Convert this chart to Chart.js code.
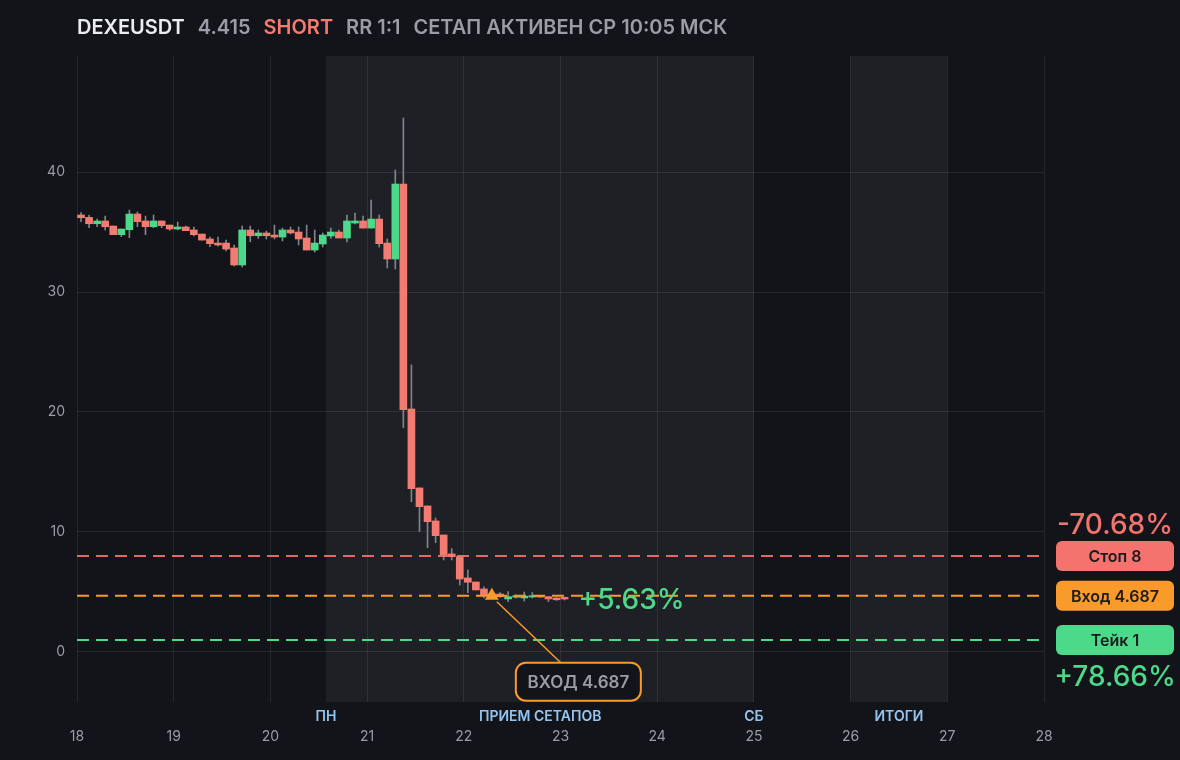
<!DOCTYPE html>
<html>
<head>
<meta charset="utf-8">
<script src="https://cdn.jsdelivr.net/npm/chart.js@4.4.1/dist/chart.umd.min.js"></script>
<style>
  html, body { margin: 0; padding: 0; background: #131419; }
  canvas { display: block; }
</style>
</head>
<body>
<canvas id="chart" width="1180" height="760"></canvas>
<script>
// Header
var symbol = 'DEXEUSDT';
var lastPrice = '4.415';
var side = 'SHORT';
var riskReward = 'RR 1:1';
var setupStatus = 'СЕТАП АКТИВЕН СР 10:05 МСК';

// 2h candles, hours counted from the 18th 00:00
var candleHours = [0, 2, 4, 6, 8, 10, 12, 14, 16, 18, 20, 22, 24, 26, 28, 30, 32, 34, 36, 38,
    40, 42, 44, 46, 48, 50, 52, 54, 56, 58, 60, 62, 64, 66, 68, 70, 72, 74, 76, 78,
    80, 82, 84, 86, 88, 90, 92, 94, 96, 98, 100, 102, 104, 106, 108, 110, 112, 114, 116, 118, 120];
var opens = [36.42, 36.22, 35.69, 35.92, 35.50, 34.78, 35.19, 36.50, 35.92, 35.44,
    35.92, 35.58, 35.25, 35.42, 35.17, 34.83, 34.42, 34.08, 34.08, 33.67,
    32.25, 35.17, 34.69, 34.92, 34.75, 34.58, 35.17, 35.00, 34.50, 33.50,
    34.00, 34.67, 35.00, 34.50, 35.75, 35.92, 35.33, 36.08, 34.08, 32.75,
    39.00, 20.25, 13.67, 12.17, 10.92, 9.75, 8.17, 7.94, 6.17, 5.83,
    5.25, 4.72, 4.83, 4.42, 4.56, 4.50, 4.58, 4.69, 4.61, 4.50, 4.55];
var highs = [36.61, 36.42, 36.08, 36.33, 35.50, 35.25, 36.83, 36.67, 36.33, 36.42,
    35.92, 35.58, 35.83, 35.50, 35.42, 34.83, 34.58, 34.58, 34.33, 33.92,
    35.50, 35.50, 35.17, 35.08, 35.58, 35.33, 35.42, 35.42, 35.58, 35.17,
    34.92, 35.33, 35.17, 36.42, 36.58, 36.33, 37.67, 36.42, 34.42, 40.17,
    44.50, 23.92, 13.67, 12.17, 11.17, 9.75, 8.61, 8.06, 6.83, 5.83,
    5.42, 4.90, 4.95, 5.03, 4.75, 5.00, 4.95, 4.72, 4.61, 4.52, 4.58];
var lows = [35.86, 35.36, 35.44, 35.17, 34.78, 34.61, 34.53, 35.44, 34.78, 35.36,
    35.36, 35.14, 35.17, 35.11, 34.67, 34.33, 33.78, 33.83, 33.42, 32.17,
    32.08, 34.19, 34.47, 34.42, 34.42, 34.25, 34.83, 33.92, 33.50, 33.33,
    33.75, 34.47, 34.50, 34.17, 35.67, 35.33, 35.33, 33.75, 32.00, 31.92,
    18.69, 12.53, 10.03, 8.69, 9.11, 7.67, 7.67, 5.58, 4.94, 5.17,
    4.50, 4.60, 4.55, 4.19, 4.50, 4.25, 4.50, 4.55, 4.19, 4.30, 4.33];
var closes = [36.19, 35.69, 35.92, 35.44, 34.78, 35.25, 36.50, 35.86, 35.44, 35.92,
    35.53, 35.25, 35.42, 35.11, 34.78, 34.33, 34.03, 33.92, 33.58, 32.25,
    35.17, 34.69, 34.92, 34.69, 34.58, 35.17, 34.92, 34.42, 33.50, 34.08,
    34.75, 35.00, 34.50, 35.92, 35.92, 35.33, 36.08, 34.03, 32.75, 39.00,
    20.19, 13.61, 12.11, 10.86, 9.69, 8.08, 7.94, 6.08, 5.81, 5.17,
    4.75, 4.83, 4.61, 4.61, 4.69, 4.65, 4.69, 4.58, 4.42, 4.35, 4.415];

// Trade levels
var levelNames = ['Стоп', 'Вход', 'Тейк'];
var levelValues = [8, 4.687, 1];
var levelColors = ['#f4736f', '#f99b2b', '#4cd98a'];
var stopPct = '-70.68%';
var takePct = '+78.66%';
var currentPct = '+5.63%';
var entryDay = 22.29;
var entryText = 'ВХОД 4.687';

// Axes and sessions
var xTicks = [18, 19, 20, 21, 22, 23, 24, 25, 26, 27, 28];
var yTicks = [0, 10, 20, 30, 40];
var sessionBands = [[20.575, 25], [26, 27]];
var sessionNames = ['ПН', 'ПРИЕМ СЕТАПОВ', 'СБ', 'ИТОГИ'];
var sessionDays = [20.575, 22.79, 25, 26.5];

var UP = '#4cd98a', DOWN = '#f47b72', WICK = '#80838c', GRAY = '#9a9da6';

Chart.defaults.font.family = 'Inter, "Noto Sans", sans-serif';

function dayOf(i) { return 18 + (candleHours[i] + 1) / 24; }

var bodies = [], wicks = [], bodyColors = [];
for (var i = 0; i < opens.length; i++) {
    bodies.push({ x: dayOf(i), y: [opens[i], closes[i]] });
    wicks.push({ x: dayOf(i), y: [lows[i], highs[i]] });
    bodyColors.push(closes[i] >= opens[i] ? UP : DOWN);
}

function levelLine(v, color) {
    return {
        type: 'line', data: [{ x: xTicks[0], y: v }, { x: xTicks[xTicks.length - 1], y: v }],
        borderColor: color, borderWidth: 2, borderDash: [12, 7], pointRadius: 0, order: 0
    };
}

function roundRect(ctx, x, y, w, h, r) {
    ctx.beginPath();
    ctx.moveTo(x + r, y);
    ctx.arcTo(x + w, y, x + w, y + h, r);
    ctx.arcTo(x + w, y + h, x, y + h, r);
    ctx.arcTo(x, y + h, x, y, r);
    ctx.arcTo(x, y, x + w, y, r);
    ctx.closePath();
}

var decor = {
    id: 'decor',
    beforeDraw(chart) {
        var ctx = chart.ctx, a = chart.chartArea, xs = chart.scales.x;
        ctx.save();
        ctx.fillStyle = '#131419';
        ctx.fillRect(0, 0, chart.width, chart.height);
        ctx.fillStyle = '#1f2025';
        sessionBands.forEach(b => {
            var x1 = xs.getPixelForValue(b[0]), x2 = xs.getPixelForValue(b[1]);
            ctx.fillRect(x1, a.top, x2 - x1, a.bottom - a.top);
        });
        ctx.restore();
    },
    afterDraw(chart) {
        var ctx = chart.ctx, a = chart.chartArea, xs = chart.scales.x, ys = chart.scales.y;
        ctx.save();

        // header line
        var parts = [[symbol, '#ececee'], [lastPrice, GRAY], [side, DOWN], [riskReward, GRAY], [setupStatus, GRAY]];
        ctx.font = '600 20px Inter';
        ctx.textBaseline = 'middle';
        ctx.textAlign = 'left';
        var tx = a.left;
        parts.forEach(p => {
            ctx.fillStyle = p[1];
            ctx.fillText(p[0], tx, 28);
            tx += ctx.measureText(p[0]).width + 13;
        });

        // session names under the plot
        ctx.font = '600 14px Inter';
        ctx.fillStyle = '#93c5f2';
        ctx.textAlign = 'center';
        sessionNames.forEach((n, k) => ctx.fillText(n, xs.getPixelForValue(sessionDays[k]), 717));

        // right side level tags
        var bx = a.right + 12, bw = 118, bh = 30;
        ctx.font = '600 16px Inter';
        levelNames.forEach((n, k) => {
            var py = ys.getPixelForValue(levelValues[k]);
            ctx.fillStyle = levelColors[k];
            roundRect(ctx, bx, py - bh / 2, bw, bh, 6);
            ctx.fill();
            ctx.fillStyle = '#1b1b1e';
            ctx.fillText(n + ' ' + levelValues[k], bx + bw / 2, py + 1);
        });
        ctx.font = '500 28px Inter';
        ctx.fillStyle = levelColors[0];
        ctx.fillText(stopPct, bx + bw / 2, ys.getPixelForValue(levelValues[0]) - 30);
        ctx.fillStyle = levelColors[2];
        ctx.fillText(takePct, bx + bw / 2, ys.getPixelForValue(levelValues[2]) + 38);

        // current result next to the last candle
        var lastX = xs.getPixelForValue(18 + (candleHours[candleHours.length - 1] + 2) / 24);
        ctx.textAlign = 'left';
        ctx.fillStyle = UP;
        ctx.fillText(currentPct, lastX + 10, ys.getPixelForValue(levelValues[1]) + 5);

        // entry callout
        var ex = xs.getPixelForValue(entryDay), ey = ys.getPixelForValue(levelValues[1]);
        var cx = ex + 24, cy = ey + 67, cw = 125, ch = 38;
        ctx.strokeStyle = '#f99b2b';
        ctx.lineWidth = 1.5;
        ctx.beginPath();
        ctx.moveTo(ex + 5, ey + 6);
        ctx.lineTo(cx + 45, cy);
        ctx.stroke();
        ctx.fillStyle = '#131419';
        ctx.lineWidth = 2;
        roundRect(ctx, cx, cy, cw, ch, 10);
        ctx.fill();
        ctx.stroke();
        ctx.font = '600 17px Inter';
        ctx.fillStyle = GRAY;
        ctx.textAlign = 'center';
        ctx.fillText(entryText, cx + cw / 2, cy + ch / 2 + 1);
        ctx.restore();
    }
};

new Chart(document.getElementById('chart'), {
    type: 'bar',
    data: {
        datasets: [
            levelLine(levelValues[0], 'rgba(244,115,111,0.9)'),
            levelLine(levelValues[1], '#f99b2b'),
            levelLine(levelValues[2], '#4cd98a'),
            {
                type: 'line', data: [{ x: entryDay, y: levelValues[1] }], showLine: false,
                pointStyle: 'triangle', pointRadius: 8, pointBackgroundColor: '#f99b2b',
                pointBorderWidth: 0, order: -1
            },
            { data: bodies, backgroundColor: bodyColors, barThickness: 7, minBarLength: 1, grouped: false, order: 1 },
            { data: wicks, backgroundColor: WICK, barThickness: 1, grouped: false, order: 2 }
        ]
    },
    options: {
        responsive: false,
        animation: false,
        devicePixelRatio: 1,
        events: [],
        layout: { padding: { top: 56, right: 136, left: 0, bottom: 0 } },
        plugins: { legend: { display: false }, tooltip: { enabled: false } },
        scales: {
            x: {
                type: 'linear', offset: false, min: xTicks[0], max: xTicks[xTicks.length - 1],
                afterBuildTicks: ax => { ax.ticks = xTicks.map(v => ({ value: v })); },
                afterFit: ax => { ax.height = 58; },
                grid: { color: 'rgba(255,255,255,0.08)', drawTicks: false, offset: false },
                border: { display: false },
                ticks: { color: GRAY, font: { size: 14 }, padding: 26, maxRotation: 0 }
            },
            y: {
                min: -4.17, max: 49.67,
                afterBuildTicks: ax => { ax.ticks = yTicks.map(v => ({ value: v })); },
                afterFit: ax => { ax.width = 77; },
                grid: { color: 'rgba(255,255,255,0.08)', drawTicks: false },
                border: { display: false },
                ticks: { color: GRAY, font: { size: 14 }, padding: 12 }
            }
        }
    },
    plugins: [decor]
});
</script>
</body>
</html>
